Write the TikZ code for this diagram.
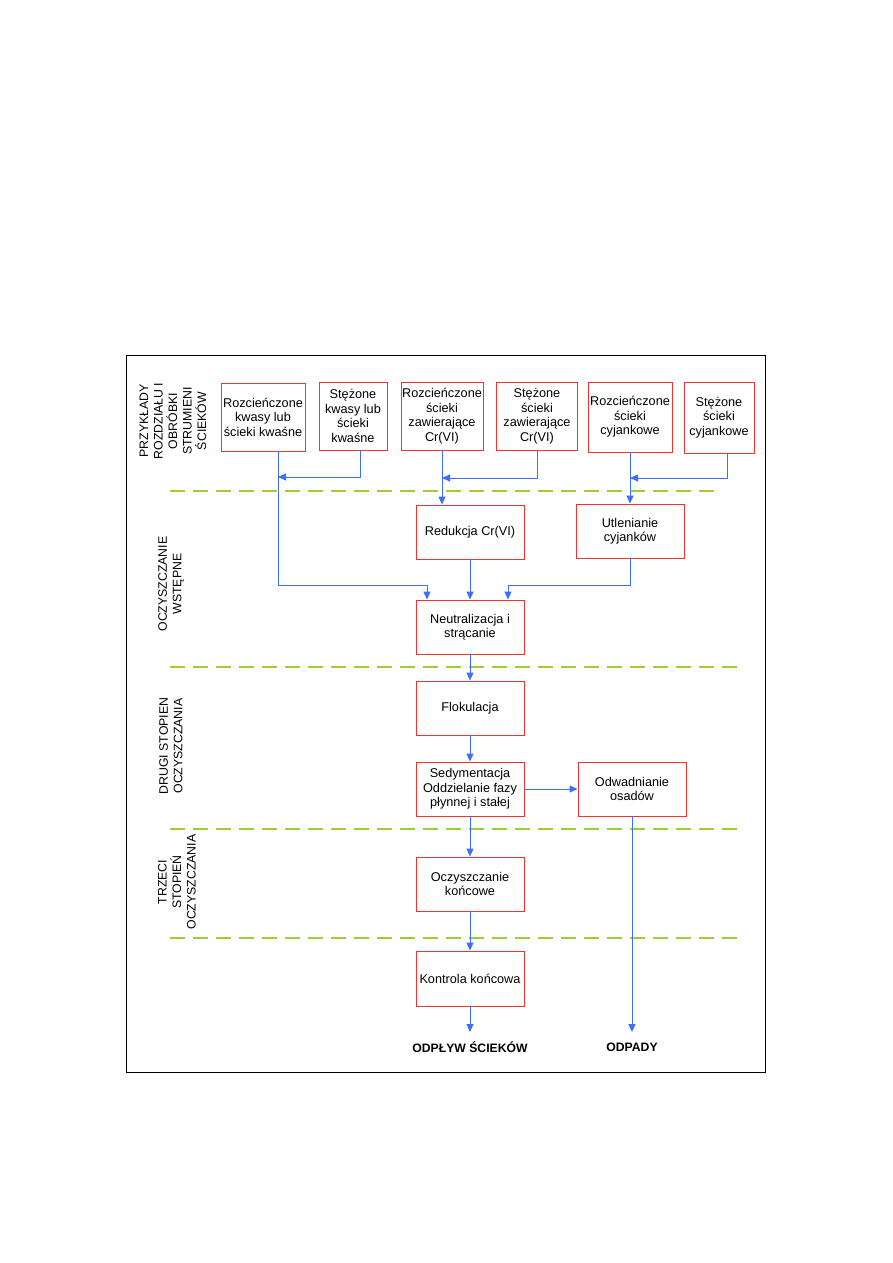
\documentclass[tikz,border=0pt]{standalone}
\usepackage{fontspec}
\setmainfont{Liberation Sans}
\usetikzlibrary{arrows.meta}
\definecolor{boxred}{RGB}{240,50,50}
\definecolor{flowblue}{RGB}{60,110,255}
\definecolor{sepgreen}{RGB}{160,205,50}
\begin{document}
\begin{tikzpicture}[x=1pt,y=-1pt,
  box/.style={draw=boxred, line width=0.9pt, align=center, inner sep=0pt,
    font=\fontsize{12.7}{14.5}\selectfont},
  arr/.style={draw=flowblue, line width=0.9pt, -{Triangle[length=8pt,width=7pt]}},
  sep/.style={draw=sepgreen, line width=2.6pt, dash pattern=on 15pt off 8pt},
  stage/.style={rotate=90, align=center, font=\fontsize{12.3}{14.5}\selectfont},
  outlbl/.style={font=\bfseries\fontsize{12.2}{14}\selectfont, inner sep=0pt}]
\useasboundingbox (0,0) rectangle (893,1263);
\fill[white] (0,0) rectangle (893,1263);
% frame
\draw[black, line width=0.9pt] (126,355) rectangle (765,1072);
% separators
\draw[sep] (170,491) -- (722,491);
\draw[sep] (170,667) -- (740,667);
\draw[sep] (170,829) -- (740,829);
\draw[sep] (170,938) -- (740,938);
% stage labels
\node[stage] (lab1) at (173,421) {PRZYKŁADY\\ROZDZIAŁU I\\OBRÓBKI\\STRUMIENI\\ŚCIEKÓW};
\node[stage] (lab2) at (171,584) {OCZYSZCZANIE\\WSTĘPNE};
\node[stage] (lab3) at (171,746) {DRUGI STOPIEN\\OCZYSZCZANIA};
\node[stage] (lab4) at (177,882) {TRZECI\\STOPIEŃ\\OCZYSZCZANIA};
% top row
\node[box, minimum width=84pt, minimum height=68pt] (b1) at (263,417) {Rozcieńczone\\kwasy lub\\ścieki kwaśne};
\node[box, minimum width=68pt, minimum height=68pt] (b2) at (353,416) {Stężone\\kwasy lub\\ścieki\\kwaśne};
\node[box, minimum width=82pt, minimum height=68pt] (b3) at (442,416) {Rozcieńczone\\ścieki\\zawierające\\Cr(VI)};
\node[box, minimum width=81pt, minimum height=68pt] (b4) at (537,416) {Stężone\\ścieki\\zawierające\\Cr(VI)};
\node[box, minimum width=84pt, minimum height=70pt] (b5) at (630,417) {Rozcieńczone\\ścieki\\cyjankowe};
\node[box, minimum width=70pt, minimum height=71pt] (b6) at (719,417.5) {Stężone\\ścieki\\cyjankowe};
% middle
\node[box, minimum width=108pt, minimum height=54pt] (red) at (470,532) {Redukcja Cr(VI)};
\node[box, minimum width=108pt, minimum height=54pt] (utl) at (630,531) {Utlenianie\\cyjanków};
\node[box, minimum width=108pt, minimum height=54pt] (neu) at (470,627) {Neutralizacja i\\strącanie};
\node[box, minimum width=108pt, minimum height=54pt] (flo) at (470,708) {Flokulacja};
\node[box, minimum width=108pt, minimum height=54pt] (sed) at (470,789) {Sedymentacja\\Oddzielanie fazy\\płynnej i stałej};
\node[box, minimum width=108pt, minimum height=54pt] (odw) at (632,789) {Odwadnianie\\osadów};
\node[box, minimum width=108pt, minimum height=54pt] (ocz) at (470,884) {Oczyszczanie\\końcowe};
\node[box, minimum width=108pt, minimum height=55pt] (kon) at (470,978.5) {Kontrola końcowa};
% outputs
\node[outlbl] (out1) at (470,1047) {ODPŁYW ŚCIEKÓW};
\node[outlbl] (out2) at (632,1047) {ODPADY};
% junction coordinates
\coordinate (j1) at (278,477);
\coordinate (j2) at (442,478);
\coordinate (j3) at (630,478);
\coordinate (c2) at (427,585);
\coordinate (c3) at (508,585);
\coordinate (e1) at (470,1032);
\coordinate (e2) at (632,1032);
% connectors
\draw[arr] ([xshift=7pt]b2.south) |- (j1);
\draw[arr] ([xshift=15pt]b1.south) |- (c2) -- (c2 |- neu.north);
\draw[arr] (b4.south) |- (j2);
\draw[arr] (b3.south) -- (b3.south |- red.north);
\draw[arr] ([xshift=8pt]b6.south) |- (j3);
\draw[arr] (b5.south) -- (b5.south |- utl.north);
\draw[arr] (red) -- (neu);
\draw[arr] (utl.south) |- (c3) -- (c3 |- neu.north);
\draw[arr] (neu) -- (flo);
\draw[arr] (flo) -- (sed);
\draw[arr] (sed) -- (odw);
\draw[arr] (sed) -- (ocz);
\draw[arr] (ocz) -- (kon);
\draw[arr] (kon) -- (e1);
\draw[arr] (odw) -- (e2);
\end{tikzpicture}
\end{document}
